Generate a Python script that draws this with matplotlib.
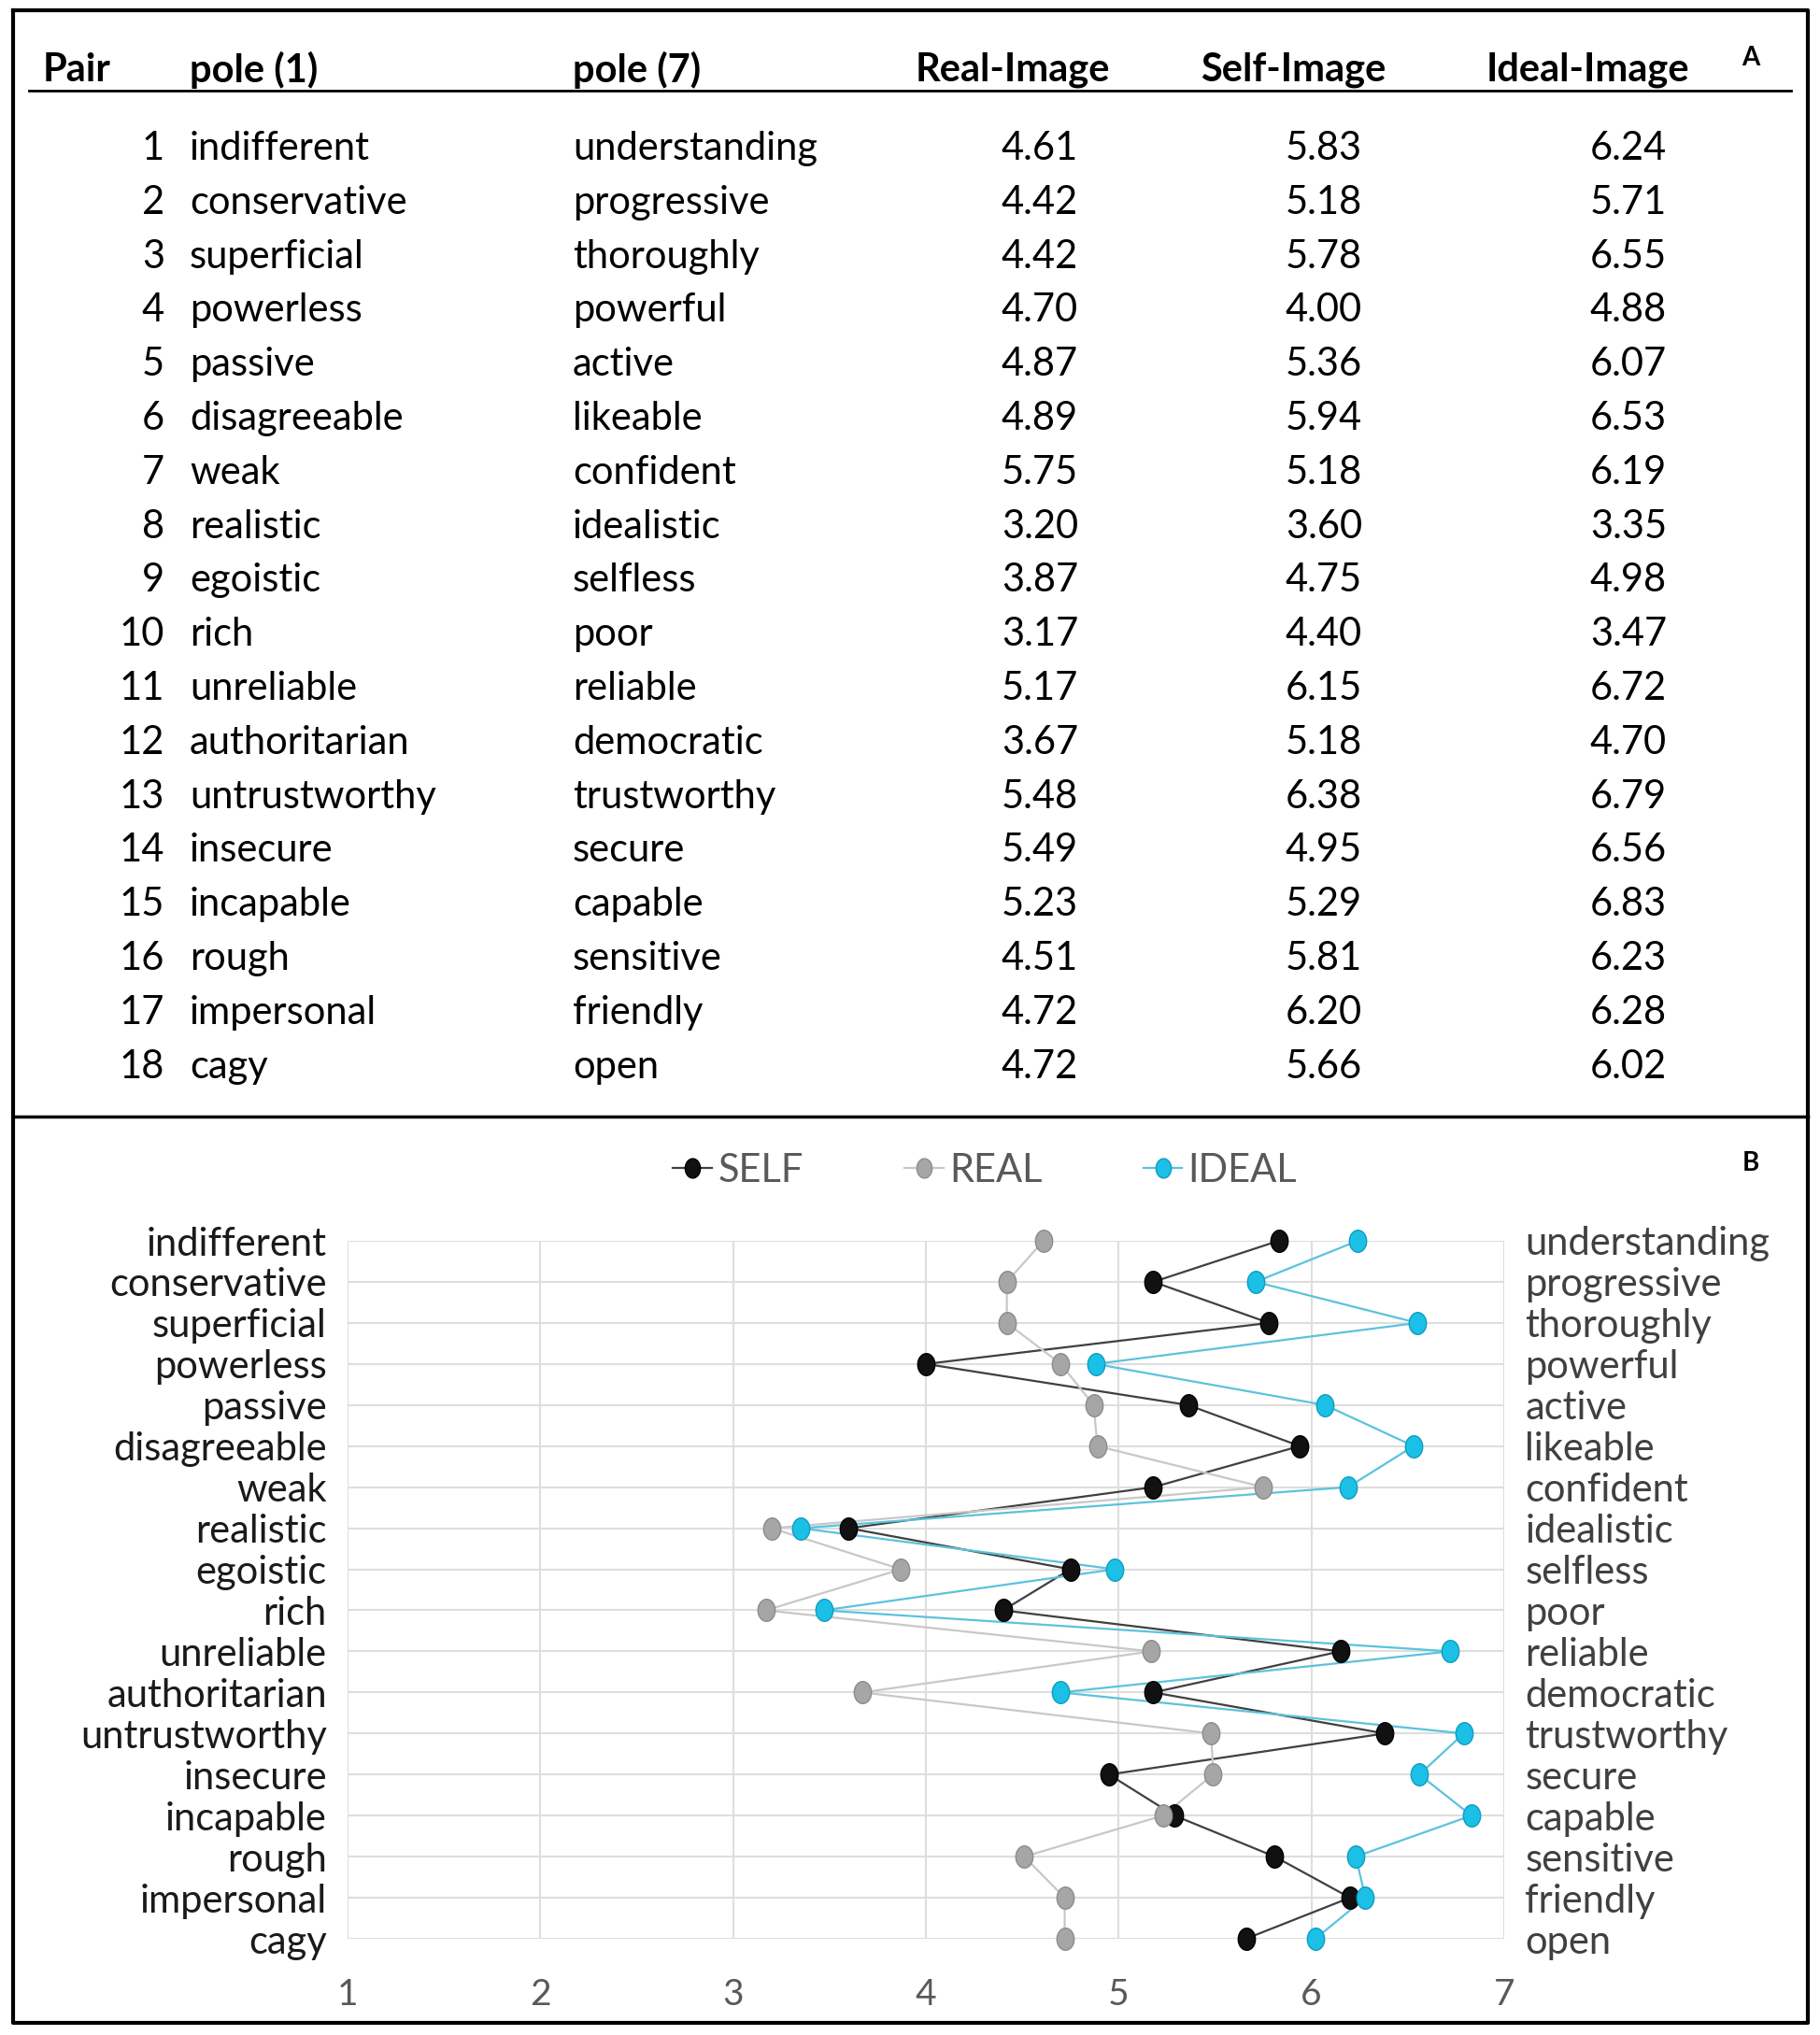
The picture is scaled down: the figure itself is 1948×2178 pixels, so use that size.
import matplotlib
matplotlib.use("Agg")
import matplotlib.pyplot as plt
from matplotlib.path import Path
from matplotlib.lines import Line2D
import numpy as np

plt.rcParams['font.family'] = ['Lato', 'DejaVu Sans']

# table / chart data
pair_ids = list(range(1, 19))
pole1 = ['indifferent', 'conservative', 'superficial', 'powerless', 'passive',
         'disagreeable', 'weak', 'realistic', 'egoistic', 'rich', 'unreliable',
         'authoritarian', 'untrustworthy', 'insecure', 'incapable', 'rough',
         'impersonal', 'cagy']
pole7 = ['understanding', 'progressive', 'thoroughly', 'powerful', 'active',
         'likeable', 'confident', 'idealistic', 'selfless', 'poor', 'reliable',
         'democratic', 'trustworthy', 'secure', 'capable', 'sensitive',
         'friendly', 'open']
real = [4.61, 4.42, 4.42, 4.70, 4.87, 4.89, 5.75, 3.20, 3.87, 3.17, 5.17, 3.67,
        5.48, 5.49, 5.23, 4.51, 4.72, 4.72]
self_img = [5.83, 5.18, 5.78, 4.00, 5.36, 5.94, 5.18, 3.60, 4.75, 4.40, 6.15,
            5.18, 6.38, 4.95, 5.29, 5.81, 6.20, 5.66]
ideal = [6.24, 5.71, 6.55, 4.88, 6.07, 6.53, 6.19, 3.35, 4.98, 3.47, 6.72, 4.70,
         6.79, 6.56, 6.83, 6.23, 6.28, 6.02]
headers = ['Pair', 'pole (1)', 'pole (7)', 'Real-Image', 'Self-Image', 'Ideal-Image']
scale_ticks = [1, 2, 3, 4, 5, 6, 7]

W, H = 1949, 2178
fig = plt.figure(figsize=(W / 100, H / 100), dpi=100)

# background axes in pixel coords for frame + table
bg = fig.add_axes([0, 0, 1, 1])
bg.set_xlim(0, W)
bg.set_ylim(H, 0)
bg.axis('off')

bg.plot([14, 1935, 1935, 14, 14], [11, 11, 2165, 2165, 11], color='black', lw=3)
bg.plot([14, 1935], [1195, 1195], color='black', lw=2.5)
bg.plot([31, 1917], [97, 97], color='black', lw=2)

fs = 30
hy = 75
bg.text(46, hy, headers[0], fontsize=fs, fontweight='bold', va='center', ha='left')
bg.text(203, hy, headers[1], fontsize=fs, fontweight='bold', va='center', ha='left')
bg.text(613, hy, headers[2], fontsize=fs, fontweight='bold', va='center', ha='left')
bg.text(1084, hy, headers[3], fontsize=fs, fontweight='bold', va='center', ha='center')
bg.text(1384, hy, headers[4], fontsize=fs, fontweight='bold', va='center', ha='center')
bg.text(1699, hy, headers[5], fontsize=fs, fontweight='bold', va='center', ha='center')
bg.text(1874, 62, 'A', fontsize=20, fontweight='bold', va='center', ha='center')
bg.text(1874, 1245, 'B', fontsize=20, fontweight='bold', va='center', ha='center')

y0, dy = 159, 57.8
for i in range(len(pair_ids)):
    y = y0 + i * dy
    bg.text(176, y, str(pair_ids[i]), fontsize=fs, va='center', ha='right')
    bg.text(203, y, pole1[i], fontsize=fs, va='center', ha='left')
    bg.text(613, y, pole7[i], fontsize=fs, va='center', ha='left')
    bg.text(1113, y, f"{real[i]:.2f}", fontsize=fs, va='center', ha='center')
    bg.text(1417, y, f"{self_img[i]:.2f}", fontsize=fs, va='center', ha='center')
    bg.text(1743, y, f"{ideal[i]:.2f}", fontsize=fs, va='center', ha='center')

# chart B
left, right_px = 372, 1610
top_px, bot_px = 1328, 2075
ax = fig.add_axes([left / W, 1 - bot_px / H, (right_px - left) / W, (bot_px - top_px) / H])
n = len(pole1)
rows = np.arange(n)
ax.set_xlim(1, 7)
ax.set_ylim(n - 1, 0)
for s in ax.spines.values():
    s.set_visible(False)
ax.set_xticks(scale_ticks)
ax.set_xticklabels([str(t) for t in scale_ticks])
ax.set_yticks(rows)
ax.set_yticklabels(pole1)
ax.tick_params(axis='x', length=0, pad=30, labelsize=28, labelcolor='#595959')
ax.tick_params(axis='y', length=0, pad=16, labelsize=30, labelcolor='#1a1a1a')
ax.grid(True, color='#dedede', lw=1.5)
ax.set_axisbelow(True)

ax2 = ax.twinx()
ax2.set_ylim(n - 1, 0)
ax2.set_yticks(rows)
ax2.set_yticklabels(pole7)
ax2.tick_params(axis='y', length=0, pad=16, labelsize=30, labelcolor='#404040')
for s in ax2.spines.values():
    s.set_visible(False)

# slightly tall ellipse marker
t = np.linspace(0, 2 * np.pi, 40)
ell = Path(np.column_stack([0.78 * np.cos(t), np.sin(t)]), closed=True)

series = [
    ('SELF', self_img, '#404040', '#111111', '#000000'),
    ('REAL', real, '#c8c8c8', '#a6a6a6', '#8c8c8c'),
    ('IDEAL', ideal, '#5bc3dc', '#1cc0e6', '#0f9dc0'),
]
handles = []
for name, vals, lc, mc, ec in series:
    ax2.plot(vals, rows, color=lc, lw=1.6, zorder=2, clip_on=False)
for name, vals, lc, mc, ec in series:
    ax2.plot(vals, rows, ls='none', marker=ell, ms=17, mfc=mc, mec=ec, mew=1,
             zorder=3, clip_on=False)
    handles.append(Line2D([], [], color=lc, lw=1.6, marker=ell, ms=15, mfc=mc, mec=ec,
                          label=name))

fig.legend(handles=handles, loc='center', bbox_to_anchor=(0.541, 1 - 1253 / H),
           ncol=3, frameon=False, fontsize=30, labelcolor='#595959',
           handlelength=1.0, handletextpad=0.15, columnspacing=2.6)

fig.savefig('out.png', dpi=100)
